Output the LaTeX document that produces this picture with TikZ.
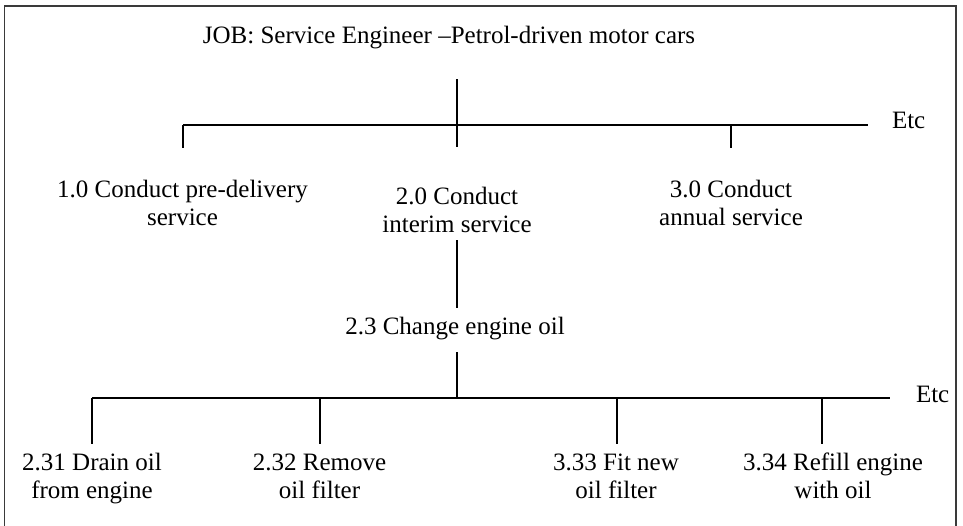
\documentclass[tikz,border=0pt]{standalone}
\usepackage{fontspec}
\setmainfont{Liberation Serif}
\begin{document}
\begin{tikzpicture}[x=1pt,y=-1pt,
  every node/.style={inner sep=0pt, outer sep=0pt, align=center,
    font=\fontsize{25}{28}\selectfont},
  task/.style={anchor=base},
  link/.style={line width=1.3pt, black},
  frame/.style={line width=1.5pt, draw={rgb,255:red,58;green,58;blue,58}}]
  \useasboundingbox (0,0) rectangle (963,525);
  % outer frame (runs past the lower edge)
  \draw[frame] (4.5,6) rectangle (956,560);

  % job title
  \node[task] (job) at (449,43) {JOB: Service Engineer –Petrol-driven motor cars};

  % first level
  \coordinate (jobdown) at (457,79);
  \coordinate (bus1) at (457,125);
  \coordinate (bus1w) at (183,125);
  \coordinate (bus1e) at (868,125);
  \coordinate (bus1c) at (457,147);
  \coordinate (bus1r) at (731,125);
  \coordinate (t1top) at (183,148);
  \coordinate (t3top) at (731,148);
  \node[anchor=base west] (etc1) at (892,128) {Etc};

  % multi-line labels sit on the baseline of their last line
  \node[task] (t1) at (182.5,225) {1.0 Conduct pre-delivery\\service};
  \node[task] (t2) at (457,232) {2.0 Conduct\\interim service};
  \node[task] (t3) at (731,225) {3.0 Conduct\\annual service};

  \draw[link] (jobdown) -- (bus1c);
  \draw[link] (bus1w) -- (bus1e);
  \draw[link] (bus1w) -- (t1top);
  \draw[link] (bus1r) -- (t3top);

  % second level
  \coordinate (t2down) at (457,240);
  \coordinate (t23up) at (457,308);
  \node[task] (t23) at (455,334) {2.3 Change engine oil};
  \draw[link] (t2down) -- (t23up);

  % third level
  \coordinate (t23down) at (457,352);
  \coordinate (bus2) at (457,398);
  \coordinate (bus2w) at (92,398);
  \coordinate (bus2e) at (890,398);
  \node[anchor=base west] (etc2) at (916,402) {Etc};
  \draw[link] (t23down) -- (bus2);
  \draw[link] (bus2w) -- (bus2e);

  \foreach \x/\name in {92/a,320/b,617/c,822/d}{
    \coordinate (drop\name) at (\x,398);
    \coordinate (leaf\name) at (\x,444);
    \draw[link] (drop\name) -- (leaf\name);
  }

  \node[task] (t231) at (92,498) {2.31 Drain oil\\from engine};
  \node[task] (t232) at (319.5,498) {2.32 Remove\\oil filter};
  \node[task] (t233) at (616,498) {3.33 Fit new\\oil filter};
  \node[task] (t234) at (833,498) {3.34 Refill engine\\with oil};
\end{tikzpicture}
\end{document}
